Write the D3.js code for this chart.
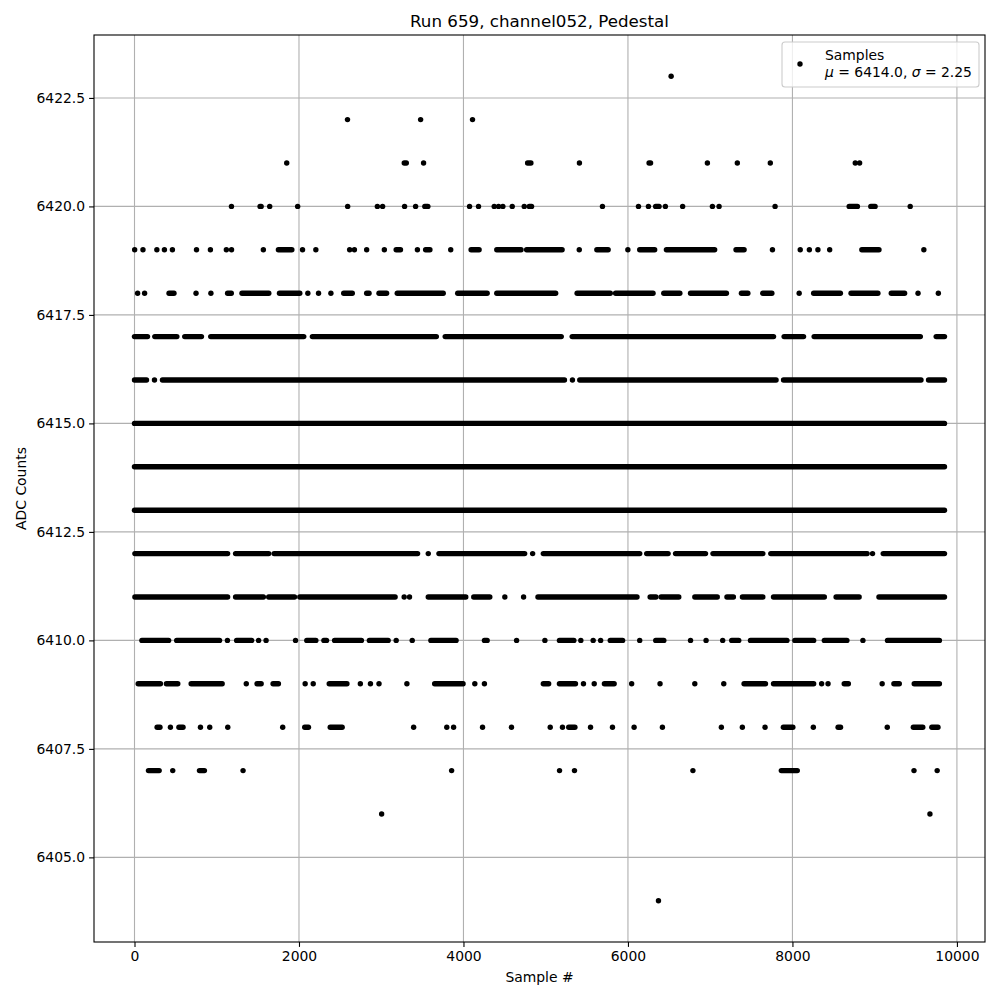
<!DOCTYPE html>
<html>
<head>
<meta charset="utf-8">
<script src="https://cdn.jsdelivr.net/npm/d3@7"></script>
<style>
  body { margin: 0; background: #fff; }
  svg { font-family: "DejaVu Sans", sans-serif; }
</style>
</head>
<body>
<svg id="chart" width="1000" height="1000"></svg>
<script>
// ---- Data (sample index ranges [start, end] or single samples, per ADC level) ----
const nSamples = 9850;
const levels = [6404, 6406, 6407, 6408, 6409, 6410, 6411, 6412, 6413, 6414, 6415, 6416, 6417, 6418, 6419, 6420, 6421, 6422, 6423];

const runs6404 = [6371];
const runs6406 = [3005, 9672];
const runs6407 = [[170, 300], 465, [790, 850], 1320, 3856, 5168, 5350, 6790, [7865, 8059], 9478, 9760];
const runs6408 = [[275, 310], 437, [540, 590], 802, 915, 1134, 1802, [2070, 2115], [2380, 2525], 3394, 3797, 3880, 4232, 4584, 5055, 5204, [5280, 5355], 5545, 5812, 6075, 6419, 7136, 7391, 7667, [7890, 8005], 8254, [8555, 8585], 9153, [9470, 9585], [9695, 9770]];
const runs6409 = [[45, 315], [388, 526], [689, 1066], 1359, [1490, 1540], [1685, 1750], 2075, 2173, [2368, 2583], 2746, 2869, 2973, 3312, [3650, 3995], 4138, 4255, [4971, 5036], [5167, 5362], 5459, 5590, [5714, 5832], 6045, 6390, 6813, 7165, [7412, 7672], [7770, 8258], 8355, 8433, [8630, 8680], 9091, [9234, 9299], [9481, 9787]];
const runs6410 = [[90, 415], [513, 1034], 1130, [1242, 1424], 1509, 1600, 1958, [2095, 2205], [2303, 2335], [2433, 2759], [2856, 3084], 3182, 3377, [3604, 3910], [4255, 4288], 4646, 4990, [5167, 5342], 5427, 5577, 5668, [5785, 5935], 6143, [6338, 6436], 6761, 6950, 7152, [7262, 7347], [7490, 7933], [8030, 8258], [8388, 8662], 8857, [9156, 9787]];
const runs6411 = [[5, 1132], [1229, 1567], [1632, 1945], [2010, 3169], 3279, 3344, [3572, 4028], [4125, 4320], 4503, 4731, [4906, 6110], [6270, 6340], [6403, 6618], [6813, 7086], [7204, 7282], [7392, 7640], [7770, 8388], [8531, 8811], [9052, 9849]];
const runs6412 = [[5, 1132], [1229, 1632], [1698, 3442], 3572, [3702, 4744], 4841, [4971, 6143], [6228, 6488], [6579, 6943], [7034, 7640], [7737, 8908], 8974, [9104, 9849]];
const runs6413 = [[0, 9849]];
const runs6414 = [[0, 9849]];
const runs6415 = [[0, 9849]];
const runs6416 = [[0, 146], 243, [340, 5228], 5325, [5414, 7801], [7892, 9563], [9655, 9849]];
const runs6417 = [[0, 158], [247, 515], [611, 814], [927, 2058], [2163, 3670], [3778, 5189], [5322, 7770], [7899, 8135], [8264, 9555], [9748, 9849]];
const runs6418 = [38, 123, [420, 480], 748, 929, [1132, 1177], [1307, 1633], [1763, 2010], 2108, 2238, 2388, [2544, 2648], [2823, 2852], [2973, 3065], [3195, 3754], [3930, 4288], [4405, 5121], [5382, 5785], [5850, 6305], [6436, 6631], [6761, 7197], [7380, 7458], [7640, 7750], 8082, [8258, 8583], [8713, 9039], [9202, 9364], 9527, 9774];
const runs6419 = [2, 103, 272, 364, 461, 754, 923, 1117, 1180, 1567, [1750, 1913], 2043, 2205, 2616, 2674, 2823, 3038, [3182, 3234], 3440, [3540, 3592], 3845, [4093, 4190], [4405, 4700], [4768, 5199], 5408, [5622, 5759], 5999, [6143, 6325], [6468, 7054], [7314, 7412], 7757, 8095, 8206, 8310, 8453, [8844, 9052], 9598];
const runs6420 = [1179, [1527, 1540], 1644, 1984, 2592, 2953, 3017, 3284, 3418, [3530, 3567], 4074, 4183, 4374, 4427, 4479, 4593, 4739, [4800, 4828], 5690, 6128, 6249, [6337, 6378], 6455, 6665, 7027, 7108, 7789, [8690, 8790], [8953, 9005], 9432];
const runs6421 = [1851, [3280, 3305], 3515, [4780, 4820], 5410, [6257, 6275], 6966, 7330, 7731, 8764, 8817];
const runs6422 = [2590, 3479, 4110];
const runs6423 = [6525];

const runsByLevel = [runs6404, runs6406, runs6407, runs6408, runs6409, runs6410, runs6411, runs6412, runs6413, runs6414, runs6415, runs6416, runs6417, runs6418, runs6419, runs6420, runs6421, runs6422, runs6423];

const xTicks = [0, 2000, 4000, 6000, 8000, 10000];
const yTicks = [6405.0, 6407.5, 6410.0, 6412.5, 6415.0, 6417.5, 6420.0, 6422.5];
const titleText = "Run 659, channel052, Pedestal";
const xLabel = "Sample #";
const yLabel = "ADC Counts";
const legendLabel = "Samples";
const mu = 6414.0, sigma = 2.25;

// ---- Layout ----
const L = 94, R = 985, T = 35, B = 942;
const svg = d3.select("#chart");
const xMin = 0, xMax = nSamples - 1;
const xPad = (xMax - xMin) * 0.05;
const yLo = d3.min(levels), yHi = d3.max(levels);
const yPad = (yHi - yLo) * 0.05;
const x = d3.scaleLinear().domain([xMin - xPad, xMax + xPad]).range([L, R]);
const y = d3.scaleLinear().domain([yLo - yPad, yHi + yPad]).range([B, T]);

// grid
const grid = svg.append("g");
grid.selectAll("line.gx").data(xTicks).join("line")
  .attr("x1", d => x(d)).attr("x2", d => x(d)).attr("y1", T).attr("y2", B)
  .attr("stroke", "#b0b0b0").attr("stroke-width", 1.1);
grid.selectAll("line.gy").data(yTicks).join("line")
  .attr("y1", d => y(d)).attr("y2", d => y(d)).attr("x1", L).attr("x2", R)
  .attr("stroke", "#b0b0b0").attr("stroke-width", 1.1);

// points
const r = 2.7;
const marks = [];
levels.forEach((lv, i) => {
  runsByLevel[i].forEach(d => {
    const rr = Array.isArray(d) ? d : [d, d];
    marks.push({ level: lv, a: rr[0], b: rr[1] });
  });
});
const pts = svg.append("g");
pts.selectAll("line").data(marks.filter(m => m.a !== m.b)).join("line")
  .attr("x1", d => x(d.a)).attr("x2", d => x(d.b))
  .attr("y1", d => y(d.level)).attr("y2", d => y(d.level))
  .attr("stroke", "#000").attr("stroke-width", 2 * r).attr("stroke-linecap", "round");
pts.selectAll("circle").data(marks.filter(m => m.a === m.b)).join("circle")
  .attr("cx", d => x(d.a)).attr("cy", d => y(d.level)).attr("r", r).attr("fill", "#000");

// axes
const xAxis = d3.axisBottom(x).tickValues(xTicks).tickFormat(d3.format("d")).tickSizeOuter(0).tickSize(4.9).tickPadding(4);
const yAxis = d3.axisLeft(y).tickValues(yTicks).tickFormat(d3.format(".1f")).tickSizeOuter(0).tickSize(4.9).tickPadding(4);
const gx = svg.append("g").attr("transform", `translate(0,${B})`).call(xAxis);
const gy = svg.append("g").attr("transform", `translate(${L},0)`).call(yAxis);
[gx, gy].forEach(g => {
  g.select(".domain").remove();
  g.selectAll(".tick line").attr("stroke", "#000").attr("stroke-width", 1.1);
  g.selectAll(".tick text").attr("font-size", "13.9px").attr("fill", "#000").attr("font-family", "DejaVu Sans");
});

// frame
svg.append("rect").attr("x", L).attr("y", T).attr("width", R - L).attr("height", B - T)
  .attr("fill", "none").attr("stroke", "#000").attr("stroke-width", 1.1);

// labels
svg.append("text").attr("x", (L + R) / 2).attr("y", 27).attr("text-anchor", "middle")
  .attr("font-size", "16.7px").text(titleText);
svg.append("text").attr("x", (L + R) / 2).attr("y", 982).attr("text-anchor", "middle")
  .attr("font-size", "13.9px").text(xLabel);
svg.append("text").attr("transform", `translate(26,${(T + B) / 2}) rotate(-90)`).attr("text-anchor", "middle")
  .attr("font-size", "13.9px").text(yLabel);

// legend
const lg = svg.append("g");
lg.append("rect").attr("x", 782).attr("y", 42).attr("width", 197).attr("height", 45).attr("rx", 3)
  .attr("fill", "#fff").attr("fill-opacity", 0.8).attr("stroke", "#cccccc").attr("stroke-width", 1.1);
lg.append("circle").attr("cx", 800).attr("cy", 64).attr("r", r).attr("fill", "#000");
lg.append("text").attr("x", 825).attr("y", 60).attr("font-size", "13.9px").text(legendLabel);
const t2 = lg.append("text").attr("x", 825).attr("y", 77).attr("font-size", "13.9px");
t2.append("tspan").attr("font-style", "italic").text("μ");
t2.append("tspan").text(` = ${mu.toFixed(1)}, `);
t2.append("tspan").attr("font-style", "italic").text("σ");
t2.append("tspan").text(` = ${sigma.toFixed(2)}`);
</script>
</body>
</html>
